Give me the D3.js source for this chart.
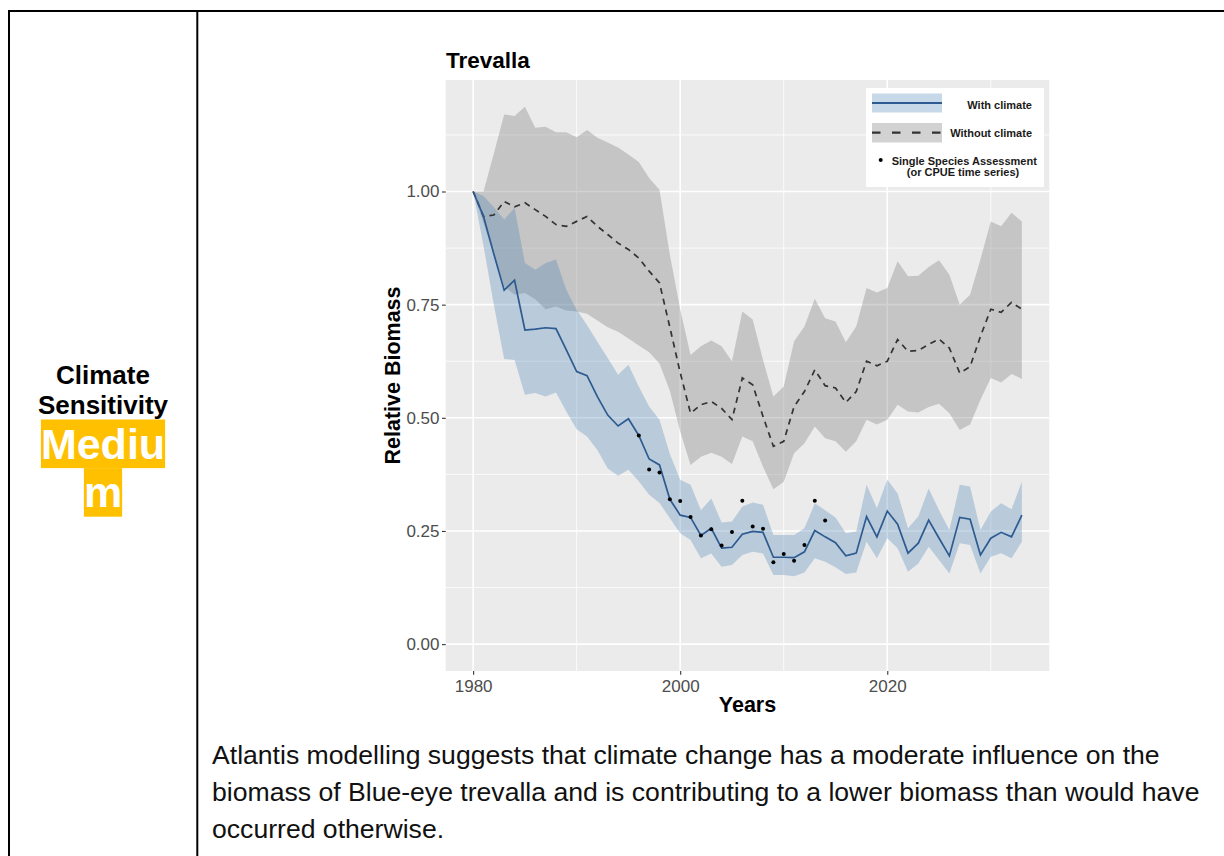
<!DOCTYPE html>
<html>
<head>
<meta charset="utf-8">
<script src="https://cdn.jsdelivr.net/npm/d3@7"></script>
<style>
  body { margin: 0; background: #ffffff; }
  svg { display: block; font-family: "Liberation Sans", Arial, Helvetica, sans-serif; }
</style>
</head>
<body>
<svg id="page" width="1224" height="856"></svg>
<script>
// ---- Data: relative biomass of Blue-eye trevalla, Atlantis runs ----
const years = [1980,1981,1982,1983,1984,1985,1986,1987,1988,1989,
               1990,1991,1992,1993,1994,1995,1996,1997,1998,1999,
               2000,2001,2002,2003,2004,2005,2006,2007,2008,2009,
               2010,2011,2012,2013,2014,2015,2016,2017,2018,2019,
               2020,2021,2022,2023,2024,2025,2026,2027,2028,2029,
               2030,2031,2032,2033];

// "With climate" run: median and ribbon bounds
const withClimate = [1.000,0.945,0.862,0.782,0.804,0.694,0.696,0.699,0.697,0.650,
                     0.602,0.593,0.547,0.506,0.482,0.498,0.461,0.409,0.396,0.320,
                     0.285,0.280,0.240,0.256,0.212,0.214,0.243,0.249,0.247,0.192,
                     0.192,0.191,0.204,0.251,0.237,0.224,0.195,0.201,0.282,0.237,
                     0.294,0.265,0.201,0.223,0.274,0.234,0.195,0.280,0.276,0.197,
                     0.234,0.247,0.237,0.285];
const withClimateUpper = [1.000,0.990,0.965,0.938,0.964,0.842,0.827,0.842,0.850,0.783,
                          0.739,0.705,0.668,0.632,0.595,0.617,0.569,0.525,0.496,0.420,
                          0.363,0.352,0.296,0.322,0.269,0.271,0.304,0.313,0.308,0.241,
                          0.241,0.241,0.256,0.311,0.296,0.280,0.245,0.249,0.352,0.300,
                          0.364,0.333,0.256,0.282,0.344,0.296,0.252,0.352,0.348,0.252,
                          0.293,0.311,0.298,0.359];
const withClimateLower = [1.000,0.880,0.750,0.630,0.628,0.551,0.555,0.547,0.556,0.514,
                          0.475,0.459,0.429,0.388,0.372,0.385,0.360,0.330,0.312,0.278,
                          0.245,0.230,0.190,0.200,0.171,0.175,0.197,0.204,0.200,0.153,
                          0.153,0.150,0.158,0.190,0.182,0.170,0.155,0.158,0.226,0.190,
                          0.234,0.212,0.160,0.178,0.215,0.186,0.156,0.223,0.219,0.156,
                          0.193,0.201,0.190,0.226];

// "Without climate" run: median and ribbon bounds
const withoutClimate = [1.000,0.945,0.948,0.978,0.966,0.975,0.960,0.945,0.927,0.923,
                        0.934,0.945,0.923,0.905,0.886,0.872,0.853,0.824,0.798,0.700,
                        0.600,0.510,0.529,0.536,0.521,0.496,0.588,0.573,0.503,0.437,
                        0.448,0.525,0.558,0.606,0.571,0.566,0.534,0.558,0.625,0.615,
                        0.625,0.673,0.647,0.649,0.662,0.674,0.654,0.599,0.613,0.680,
                        0.740,0.733,0.755,0.740];
const withoutClimateUpper = [1.000,1.000,1.084,1.170,1.167,1.187,1.141,1.143,1.131,1.131,
                             1.120,1.136,1.119,1.108,1.097,1.082,1.065,1.030,1.004,0.860,
                             0.740,0.639,0.658,0.671,0.658,0.625,0.735,0.717,0.628,0.547,
                             0.569,0.669,0.702,0.763,0.720,0.713,0.667,0.702,0.787,0.777,
                             0.787,0.846,0.813,0.814,0.833,0.848,0.816,0.750,0.772,0.850,
                             0.934,0.923,0.953,0.934];
const withoutClimateLower = [1.000,0.930,0.860,0.790,0.772,0.776,0.762,0.740,0.746,0.737,
                             0.735,0.730,0.715,0.700,0.690,0.675,0.660,0.645,0.620,0.560,
                             0.470,0.396,0.414,0.423,0.414,0.398,0.459,0.448,0.392,0.342,
                             0.359,0.422,0.444,0.481,0.455,0.448,0.425,0.448,0.496,0.485,
                             0.496,0.529,0.514,0.512,0.524,0.531,0.510,0.473,0.485,0.540,
                             0.588,0.578,0.597,0.586];

// Single species assessment (CPUE) points
const assessYears  = [1996,1997,1998,1999,2000,2001,2002,2003,2004,2005,
                      2006,2007,2008,2009,2010,2011,2012,2013,2014];
const assessValues = [0.461,0.386,0.379,0.320,0.316,0.281,0.240,0.254,0.218,0.248,
                      0.317,0.260,0.255,0.181,0.199,0.184,0.219,0.317,0.273];

// Axis breaks and labels
const yMajor = [0, 0.25, 0.5, 0.75, 1.0];
const yMinor = [0.125, 0.375, 0.625, 0.875, 1.125];
const xMajor = [1980, 2000, 2020];
const xMinor = [1990, 2010, 2030];
const legendLabels = ["With climate", "Without climate", "Single Species Assessment", "(or CPUE time series)"];

const chartTitle = "Trevalla";
const xTitle = "Years";
const yTitle = "Relative Biomass";
const sideLines = ["Climate", "Sensitivity"];
const ratingLines = ["Mediu", "m"];
const captionLines = [
  "Atlantis modelling suggests that climate change has a moderate influence on the",
  "biomass of Blue-eye trevalla and is contributing to a lower biomass than would have",
  "occurred otherwise."
];

// ---- Page ----
const svg = d3.select("#page");
const FONT = '"Liberation Sans", Arial, Helvetica, sans-serif';

// table frame
const frame = svg.append("g").attr("stroke", "#000").attr("stroke-width", 2);
frame.append("line").attr("x1", 8).attr("x2", 1224).attr("y1", 11).attr("y2", 11);
frame.append("line").attr("x1", 9).attr("x2", 9).attr("y1", 10).attr("y2", 856);
frame.append("line").attr("x1", 197.3).attr("x2", 197.3).attr("y1", 10).attr("y2", 856);

// left cell: sensitivity rating
const cellCx = 103;
svg.selectAll("text.side").data(sideLines).join("text")
  .attr("class", "side")
  .attr("x", cellCx).attr("y", (d, i) => 384 + i * 30)
  .attr("text-anchor", "middle")
  .attr("font-size", 26).attr("font-weight", "bold").attr("fill", "#000")
  .text(d => d);

const ratingG = svg.append("g");
ratingLines.forEach((t, i) => {
  const base = 458.5 + i * 48.6;
  const rect = ratingG.append("rect").attr("fill", "#FFC000");
  const txt = ratingG.append("text")
    .attr("x", cellCx).attr("y", base)
    .attr("text-anchor", "middle")
    .attr("font-size", 43).attr("font-weight", "bold").attr("fill", "#fff")
    .text(t);
  const w = txt.node().getComputedTextLength();
  rect.attr("x", cellCx - w / 2).attr("y", base - 39).attr("width", w).attr("height", 48.6);
});

// caption under the chart
svg.selectAll("text.caption").data(captionLines).join("text")
  .attr("class", "caption")
  .attr("x", 212).attr("y", (d, i) => 764 + i * 37)
  .attr("font-size", 26.6).attr("fill", "#111")
  .text(d => d);

// ---- Chart ----
const panel = { left: 445.7, right: 1049.3, top: 80, bottom: 671 };

const xExt = d3.extent(years);
const xPad = (xExt[1] - xExt[0]) * 0.05;
const x = d3.scaleLinear().domain([xExt[0] - xPad, xExt[1] + xPad]).range([panel.left, panel.right]);

const yMax = d3.max(withoutClimateUpper.concat(withClimateUpper));
const yPad = (yMax - 0) * 0.05;
const y = d3.scaleLinear().domain([0 - yPad, yMax + yPad]).range([panel.bottom, panel.top]);

const chart = svg.append("g");

chart.append("rect")
  .attr("x", panel.left).attr("y", panel.top)
  .attr("width", panel.right - panel.left).attr("height", panel.bottom - panel.top)
  .attr("fill", "#EBEBEB");

// grid
const grid = chart.append("g").attr("stroke", "#fff");
grid.selectAll("line.ymin").data(yMinor).join("line")
  .attr("x1", panel.left).attr("x2", panel.right)
  .attr("y1", d => y(d)).attr("y2", d => y(d)).attr("stroke-width", 0.8);
grid.selectAll("line.xmin").data(xMinor).join("line")
  .attr("y1", panel.top).attr("y2", panel.bottom)
  .attr("x1", d => x(d)).attr("x2", d => x(d)).attr("stroke-width", 0.8);
grid.selectAll("line.ymaj").data(yMajor).join("line")
  .attr("x1", panel.left).attr("x2", panel.right)
  .attr("y1", d => y(d)).attr("y2", d => y(d)).attr("stroke-width", 1.6);
grid.selectAll("line.xmaj").data(xMajor).join("line")
  .attr("y1", panel.top).attr("y2", panel.bottom)
  .attr("x1", d => x(d)).attr("x2", d => x(d)).attr("stroke-width", 1.6);

// ribbons
const ribbon = (lo, hi) => d3.area()
  .x((d, i) => x(years[i]))
  .y0((d, i) => y(lo[i]))
  .y1((d, i) => y(hi[i]));

chart.append("path")
  .attr("d", ribbon(withoutClimateLower, withoutClimateUpper)(years))
  .attr("fill", "#7f7f7f").attr("fill-opacity", 0.35);
chart.append("path")
  .attr("d", ribbon(withClimateLower, withClimateUpper)(years))
  .attr("fill", "#4682B4").attr("fill-opacity", 0.3);

// median lines
const lineOf = vals => d3.line().x((d, i) => x(years[i])).y((d, i) => y(vals[i]));
chart.append("path")
  .attr("d", lineOf(withoutClimate)(years))
  .attr("fill", "none").attr("stroke", "#333").attr("stroke-width", 1.7)
  .attr("stroke-dasharray", "6,5");
chart.append("path")
  .attr("d", lineOf(withClimate)(years))
  .attr("fill", "none").attr("stroke", "#2D5A91").attr("stroke-width", 1.7);

// assessment points
chart.selectAll("circle.sa").data(assessYears).join("circle")
  .attr("class", "sa")
  .attr("cx", d => x(d)).attr("cy", (d, i) => y(assessValues[i]))
  .attr("r", 2).attr("fill", "#000");

// axes
const yAxis = chart.append("g")
  .attr("transform", `translate(${panel.left},0)`)
  .call(d3.axisLeft(y).tickValues(yMajor).tickFormat(d3.format(".2f")).tickSize(3.7).tickPadding(2.5));
const xAxis = chart.append("g")
  .attr("transform", `translate(0,${panel.bottom})`)
  .call(d3.axisBottom(x).tickValues(xMajor).tickFormat(d3.format("d")).tickSize(3.7).tickPadding(5));
[yAxis, xAxis].forEach(ax => {
  ax.select(".domain").remove();
  ax.selectAll(".tick line").attr("stroke", "#333").attr("stroke-width", 1.1);
  ax.selectAll(".tick text").attr("fill", "#4D4D4D").attr("font-size", 17).attr("font-family", FONT);
});

// titles
chart.append("text")
  .attr("x", 446).attr("y", 68)
  .attr("font-size", 22.5).attr("font-weight", "bold").attr("fill", "#000")
  .text(chartTitle);
chart.append("text")
  .attr("x", (panel.left + panel.right) / 2).attr("y", 712)
  .attr("text-anchor", "middle")
  .attr("font-size", 21.5).attr("font-weight", "bold").attr("fill", "#000")
  .text(xTitle);
chart.append("text")
  .attr("transform", `translate(400,${(panel.top + panel.bottom) / 2}) rotate(-90)`)
  .attr("text-anchor", "middle")
  .attr("font-size", 21.5).attr("font-weight", "bold").attr("fill", "#000")
  .text(yTitle);

// legend
const lg = chart.append("g");
lg.append("rect").attr("x", 866).attr("y", 88).attr("width", 178).attr("height", 99).attr("fill", "#fff");
lg.append("rect").attr("x", 872).attr("y", 93.5).attr("width", 70).attr("height", 19)
  .attr("fill", "#4682B4").attr("fill-opacity", 0.3);
lg.append("line").attr("x1", 872).attr("x2", 942).attr("y1", 103).attr("y2", 103)
  .attr("stroke", "#2D5A91").attr("stroke-width", 2.2);
lg.append("rect").attr("x", 872).attr("y", 123).attr("width", 70).attr("height", 19.5)
  .attr("fill", "#7f7f7f").attr("fill-opacity", 0.35);
lg.append("line").attr("x1", 872).attr("x2", 942).attr("y1", 132.7).attr("y2", 132.7)
  .attr("stroke", "#333").attr("stroke-width", 2.2).attr("stroke-dasharray", "8.5,11.5");
lg.append("circle").attr("cx", 880.7).attr("cy", 160).attr("r", 2).attr("fill", "#000");

const legendText = [
  { t: legendLabels[0], x: 1032, y: 109, a: "end" },
  { t: legendLabels[1], x: 1032, y: 137, a: "end" },
  { t: legendLabels[2], x: 891.7, y: 164.5, a: "start" },
  { t: legendLabels[3], x: 963, y: 175.5, a: "middle" }
];
lg.selectAll("text").data(legendText).join("text")
  .attr("x", d => d.x).attr("y", d => d.y).attr("text-anchor", d => d.a)
  .attr("font-size", 11).attr("font-weight", "bold").attr("fill", "#1a1a1a")
  .text(d => d.t);
</script>
</body>
</html>
